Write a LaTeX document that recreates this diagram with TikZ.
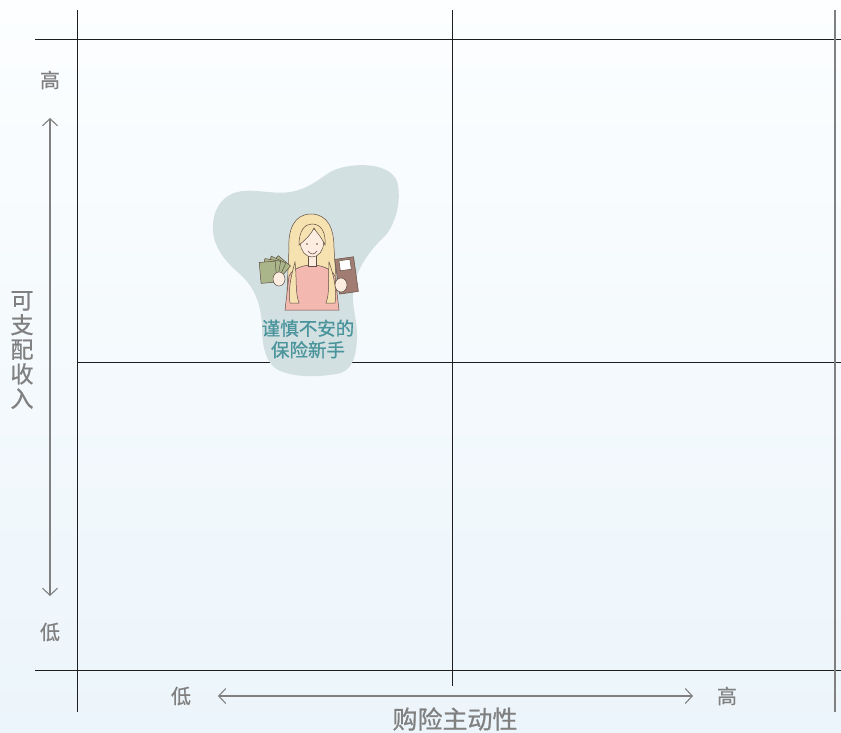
\documentclass[tikz,border=0pt]{standalone}
\usepackage{fontspec}
\setmainfont{Noto Sans CJK SC}
\newfontfamily\labelfont[FakeBold=0.8]{Noto Sans CJK SC}
\usepackage{xcolor}
\usepackage{tikz}
\usetikzlibrary{arrows.meta,positioning}
\definecolor{Ink}{RGB}{30,30,30}
\definecolor{AxisGray}{RGB}{128,128,128}
\definecolor{SkyTop}{RGB}{252,254,255}
\definecolor{SkyBottom}{RGB}{236,245,251}
\definecolor{Blob}{RGB}{211,224,226}
\definecolor{Teal}{RGB}{74,148,156}
\definecolor{Hair}{RGB}{246,226,176}
\definecolor{Skin}{RGB}{253,236,224}
\definecolor{Shirt}{RGB}{243,184,176}
\definecolor{Cash}{RGB}{170,182,138}
\definecolor{Card}{RGB}{160,124,114}
\definecolor{Line}{RGB}{95,78,68}
\tikzset{
  grid/.style={draw=Ink,line width=0.9pt},
  edgegrid/.style={draw=AxisGray,line width=1.6pt},
  axisarrow/.style={{Straight Barb[length=7pt,width=15pt]}-{Straight Barb[length=7pt,width=15pt]},draw=AxisGray,line width=1.1pt},
  tick/.style={text=AxisGray,font=\labelfont\fontsize{20}{22}\selectfont,inner sep=0pt},
  axistitle/.style={text=AxisGray,font=\labelfont\fontsize{23}{24.6}\selectfont,inner sep=0pt,align=center},
  tag/.style={text=Teal,font=\labelfont\fontsize{18.5}{21.5}\selectfont,inner sep=0pt,align=center},
  outline/.style={draw=Line,line width=0.5pt}
}
\begin{document}
\begin{tikzpicture}[x=1pt,y=-1pt]
\useasboundingbox (0,0) rectangle (841,733);
\shade[top color=SkyTop,bottom color=SkyBottom] (0,0) rectangle (841,733);

% quadrant grid
\draw[grid] (35,39) -- (841,39);
\draw[grid] (77,362) -- (841,362);
\draw[grid] (35,670) -- (841,670);
\draw[grid] (77,10) -- (77,712);
\draw[grid] (452,10) -- (452,686);
\draw[edgegrid] (835,10) -- (835,712);

% vertical axis
\node[tick] (yhigh) at (50,80) {高};
\node[tick] (ylow) at (50,632) {低};
\draw[axisarrow,shorten <=38pt,shorten >=36pt] (yhigh.center) -- (ylow.center);
\node[axistitle] (ytitle) at (22,350) {可\\支\\配\\收\\入};

% horizontal axis
\node[tick] (xlow) at (181,696) {低};
\node[tick] (xhigh) at (727,696) {高};
\draw[axisarrow,shorten <=37pt,shorten >=34pt] (xlow.center) -- (xhigh.center);
\node[axistitle,font=\labelfont\fontsize{25}{26}\selectfont] (xtitle) at (455,719) {购险主动性};

% persona blob
\fill[Blob] (397,181) .. controls (402,200) and (396,222) .. (386,235)
  .. controls (370,250) and (356,268) .. (353,292)
  .. controls (352,310) and (358,322) .. (357,338)
  .. controls (356,358) and (352,372) .. (336,374)
  .. controls (318,377) and (296,378) .. (278,370)
  .. controls (264,362) and (262,342) .. (262,326)
  .. controls (261,306) and (256,290) .. (242,276)
  .. controls (228,264) and (214,250) .. (213,230)
  .. controls (212,212) and (220,198) .. (234,193)
  .. controls (252,187) and (270,195) .. (290,192)
  .. controls (308,189) and (318,180) .. (330,172)
  .. controls (346,163) and (388,160) .. (397,181) -- cycle;

% persona figure
\fill[Hair,outline] (311,214) .. controls (294,214) and (288,230) .. (289,248)
  -- (287,292) .. controls (288,300) .. (297,301) -- (327,301)
  .. controls (336,300) .. (337,292) -- (334,248)
  .. controls (334,229) and (328,214) .. (311,214) -- cycle;
\fill[Shirt,outline] (289,276) .. controls (293,268) and (304,265) .. (312,265)
  .. controls (320,265) and (331,268) .. (335,276) -- (339,310) -- (285,310) -- cycle;
\fill[Hair,outline] (295,262) .. controls (297,280) and (295,292) .. (299,303)
  -- (290,303) .. controls (288,290) and (291,276) .. (295,262) -- cycle;
\fill[Hair,outline] (329,262) .. controls (328,280) and (330,292) .. (326,303)
  -- (335,303) .. controls (337,290) and (334,276) .. (329,262) -- cycle;
\fill[Skin,outline] (308,254) rectangle (316,266);
\fill[Skin,outline] (312,243) ellipse [x radius=11.5,y radius=14];
\fill[Hair,outline] (299,245) .. controls (299,230) and (305,224) .. (312,224)
  .. controls (321,224) and (326,232) .. (325,245)
  .. controls (321,236) and (316,232) .. (314,228)
  .. controls (310,236) and (304,241) .. (299,245) -- cycle;
\fill[Line] (307,244) circle (0.9) (317,244) circle (0.9);
\draw[outline] (308,251) .. controls (311,255) and (314,255) .. (317,251);
% cash fan in the left hand
\foreach \a in {-40,-25,-10,5}
  \fill[Cash,outline,rotate around={\a:(277,282)}] (261,261) rectangle (277,282);
\fill[Skin,outline] (279,279) ellipse [x radius=6,y radius=7];
% card in the right hand
\fill[Card,outline,rotate around={8:(346,275)}] (337,258) rectangle (356,293);
\fill[white,outline,rotate around={8:(346,275)}] (341,260) rectangle (352,270);
\fill[Skin,outline] (341,285) ellipse [x radius=6,y radius=7];

\node[tag] (persona) at (308,339) {谨慎不安的\\保险新手};
\end{tikzpicture}
\end{document}
